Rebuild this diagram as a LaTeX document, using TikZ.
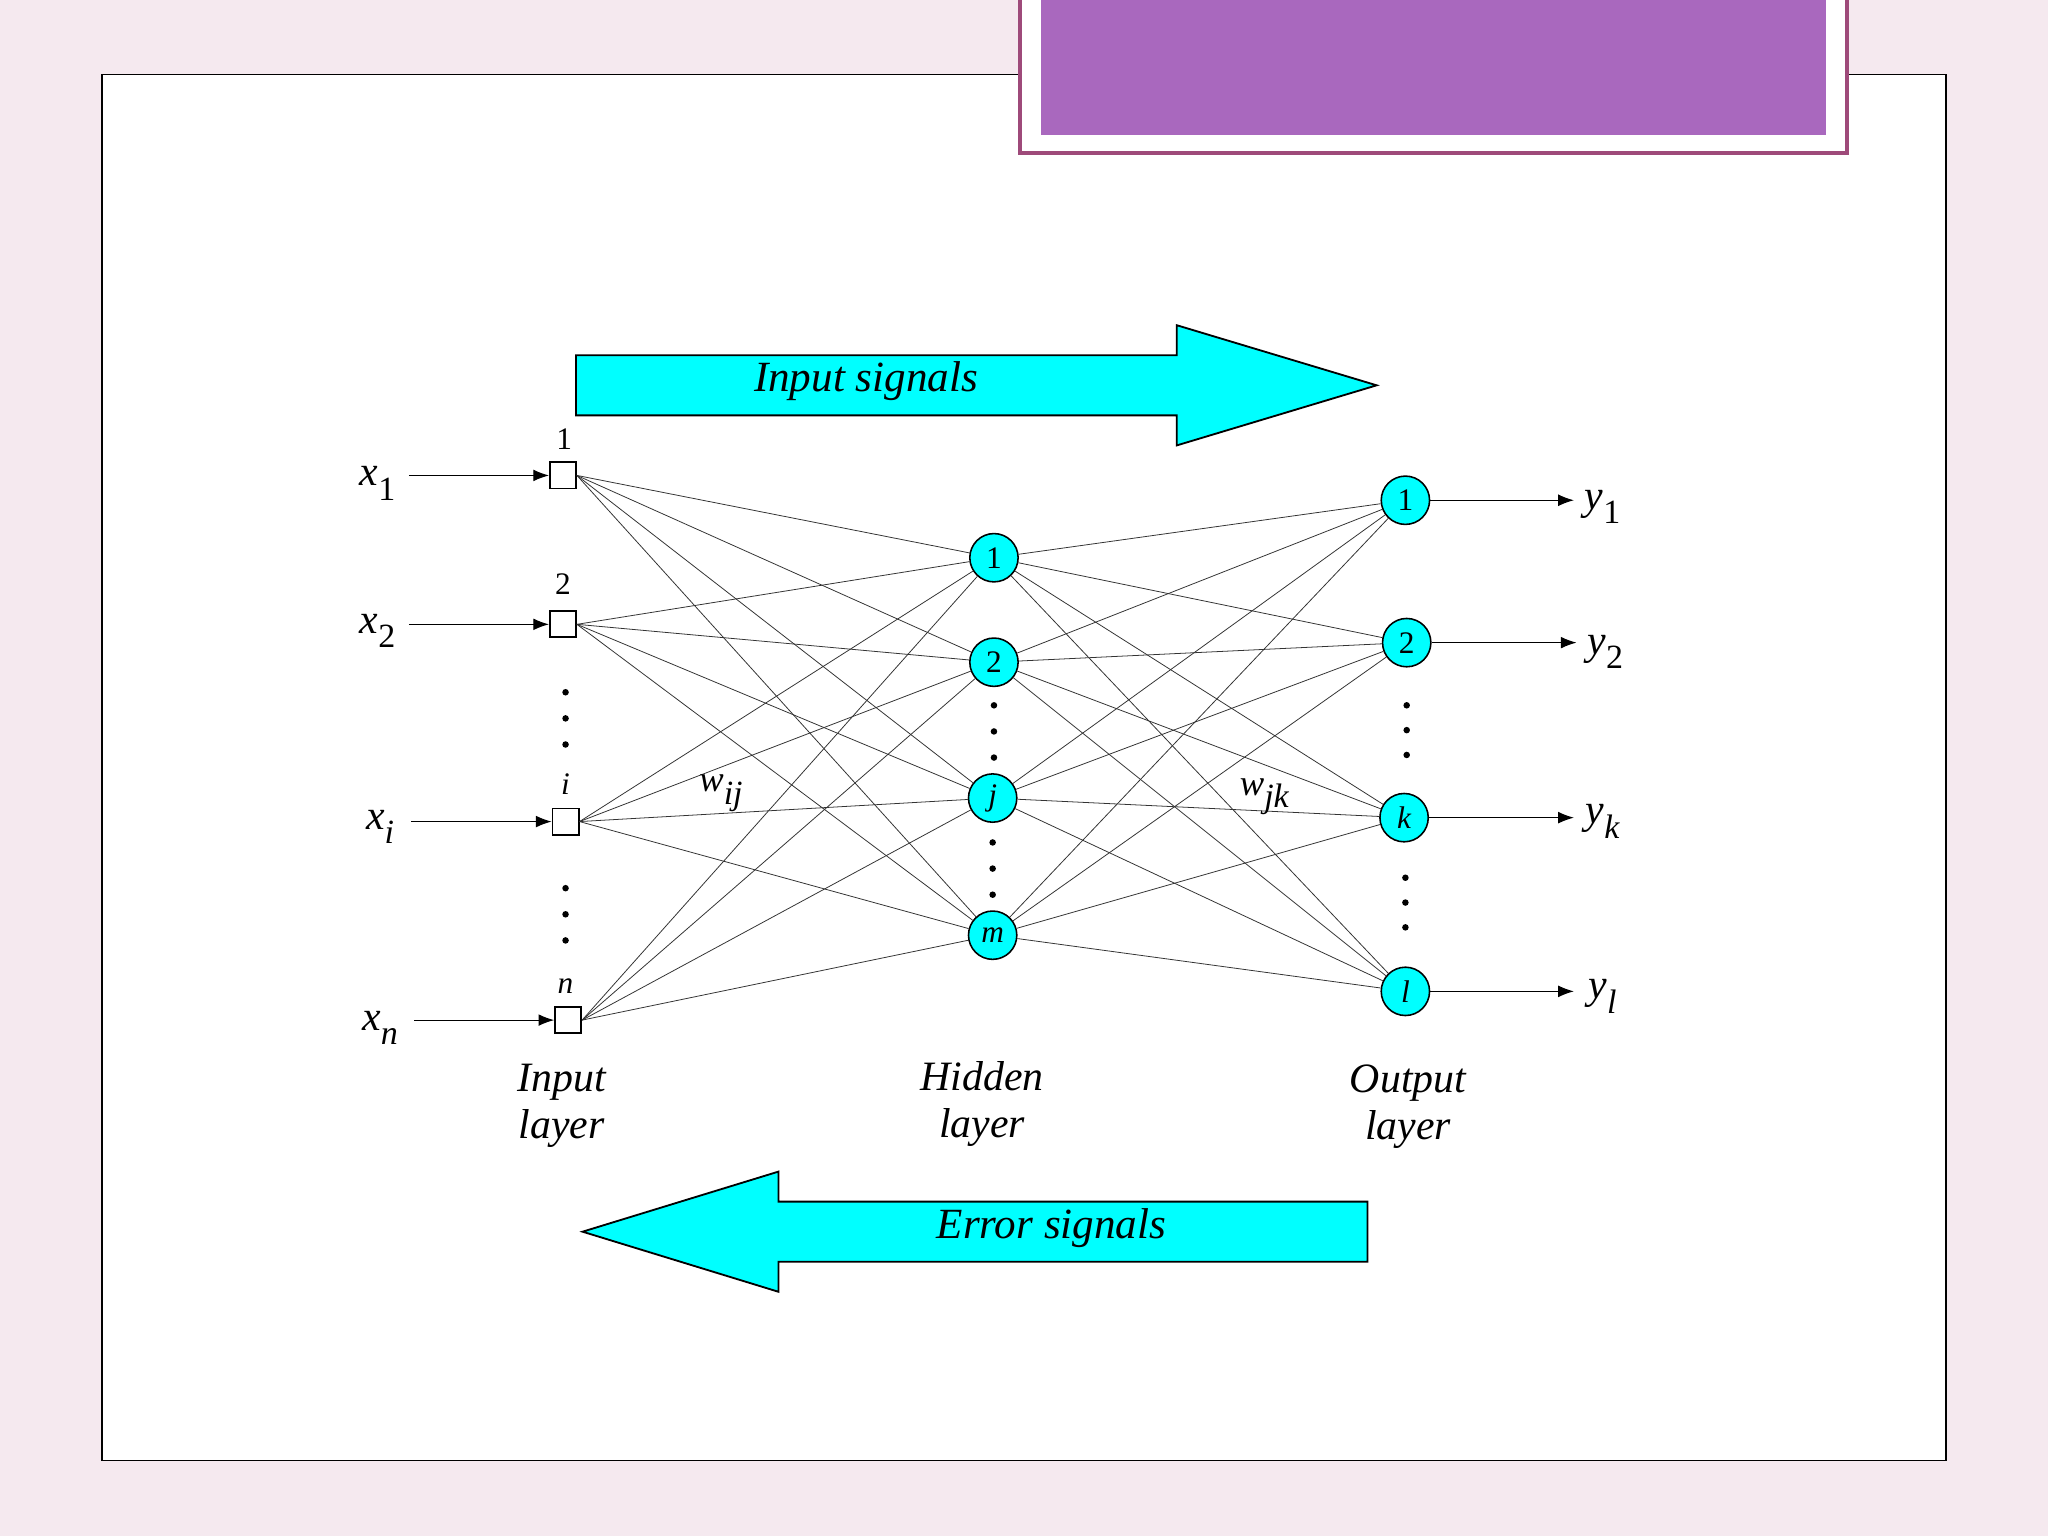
\documentclass[tikz,border=0pt]{standalone}
\usepackage{fontspec}
\setmainfont{Liberation Serif}
\usetikzlibrary{arrows.meta}
\definecolor{cy}{RGB}{0,255,255}
\definecolor{bg}{HTML}{F5E9EF}
\definecolor{pu}{HTML}{A968BE}
\definecolor{pb}{HTML}{9E4A7A}
\newcommand{\sub}[1]{\raisebox{-0.35em}{\fontsize{26}{28}\selectfont #1}}
\begin{document}
\begin{tikzpicture}[x=1pt,y=-1pt,
  sq/.style={draw,fill=white,minimum size=20pt,inner sep=0pt,line width=1.4pt},
  hn/.style={circle,draw,fill=cy,minimum size=37pt,inner sep=0pt,line width=1.2pt,font=\fontsize{24}{28}\selectfont},
  lab/.style={font=\itshape\fontsize{32}{36}\selectfont},
  big/.style={draw,fill=cy,line width=1.4pt},
  sm/.style={font=\fontsize{24}{28}\selectfont},
  wire/.style={draw=black!80,line width=0.6pt},
  arr/.style={-{Latex[length=12pt,width=9pt]},line width=0.8pt},
  dot/.style={circle,fill=black,inner sep=0pt,minimum size=5pt}]
\useasboundingbox (0,0) rectangle (1568,1176);
\fill[bg] (0,0) rectangle (1568,1176);
\draw[fill=white,line width=1pt] (78,57) rectangle (1490,1118);
\fill[white] (781,0) rectangle (1414,117);
\draw[line width=3pt,draw=pb] (781,0) -- (781,117) -- (1414,117) -- (1414,0);
\fill[pu] (797,0) rectangle (1398,103);
% big arrows
\draw[big] (441,272) -- (901,272) -- (901,249) -- (1054,295) -- (901,341) -- (901,318) -- (441,318) -- cycle;
\node[lab,font=\itshape\fontsize{33}{38}\selectfont] (is) at (663,292) {Input signals};
\draw[big] (446,943) -- (596,897) -- (596,920) -- (1047,920) -- (1047,966) -- (596,966) -- (596,989) -- cycle;
\node[lab,font=\itshape\fontsize{33}{38}\selectfont] (es) at (805,940) {Error signals};
% input nodes
\node[sq] (i1) at (431,364) {};
\node[sq] (i2) at (431,478) {};
\node[sq] (ii) at (433,629) {};
\node[sq] (in) at (435,781) {};
\node[sm] at (432,336) {1};
\node[sm] at (431,447) {2};
\node[sm] at (433,600) {\itshape i};
\node[sm] at (433,755) {\itshape n};
\node[lab] (x1) at (289,370) {x\sub{\upshape 1}};
\node[lab] (x2) at (289,483) {x\sub{\upshape 2}};
\node[lab] (xi) at (291,633) {x\sub{i}};
\node[lab] (xn) at (291,787) {x\sub{n}};
\coordinate (cx1) at (313,364); \coordinate (cx2) at (313,478);
\coordinate (cxi) at (315,629); \coordinate (cxn) at (317,781);
\draw[arr] (cx1) -- (i1.west); \draw[arr] (cx2) -- (i2.west);
\draw[arr] (cxi) -- (ii.west); \draw[arr] (cxn) -- (in.west);
% hidden
\node[hn] (h1) at (761,427) {1};
\node[hn] (h2) at (761,507) {2};
\node[hn] (hj) at (760,611) {\itshape j};
\node[hn] (hm) at (760,716) {\itshape m};
% output
\node[hn] (o1) at (1076,383) {1};
\node[hn] (o2) at (1077,492) {2};
\node[hn] (ok) at (1075,626) {\itshape k};
\node[hn] (ol) at (1076,759) {\itshape l};
\foreach \a in {i1,i2,ii,in}{\foreach \b in {h1,h2,hj,hm}{\draw[wire] (\a.east) -- (\b);}}
\foreach \a in {h1,h2,hj,hm}{\foreach \b in {o1,o2,ok,ol}{\draw[wire] (\a) -- (\b);}}
% dots
\foreach \x/\y in {433/530,433/550,433/570,433/680,433/700,433/720,761/540,761/560,761/580,760/645,760/665,760/685,1077/540,1077/559,1077/578,1076/672,1076/691,1076/710}{\node[dot] at (\x,\y) {};}
% outputs
\node[lab] (y1) at (1227,388) {y\sub{\upshape 1}};
\node[lab] (y2) at (1229,499) {y\sub{\upshape 2}};
\node[lab] (yk) at (1227,629) {y\sub{k}};
\node[lab] (yl) at (1227,763) {y\sub{l}};
\coordinate (cy1) at (1205,383); \coordinate (cy2) at (1207,492);
\coordinate (cyk) at (1205,626); \coordinate (cyl) at (1205,759);
\draw[arr] (o1.east) -- (cy1); \draw[arr] (o2.east) -- (cy2);
\draw[arr] (ok.east) -- (cyk); \draw[arr] (ol.east) -- (cyl);
\node[lab,font=\itshape\fontsize{28}{30}\selectfont] at (552,607) {w\sub{ij}};
\node[lab,font=\itshape\fontsize{28}{30}\selectfont] at (968,610) {w\sub{jk}};
\node[lab,align=center] at (430,847) {Input\\layer};
\node[lab,align=center] at (752,845) {Hidden\\layer};
\node[lab,align=center] at (1078,847) {Output\\layer};
\end{tikzpicture}
\end{document}
